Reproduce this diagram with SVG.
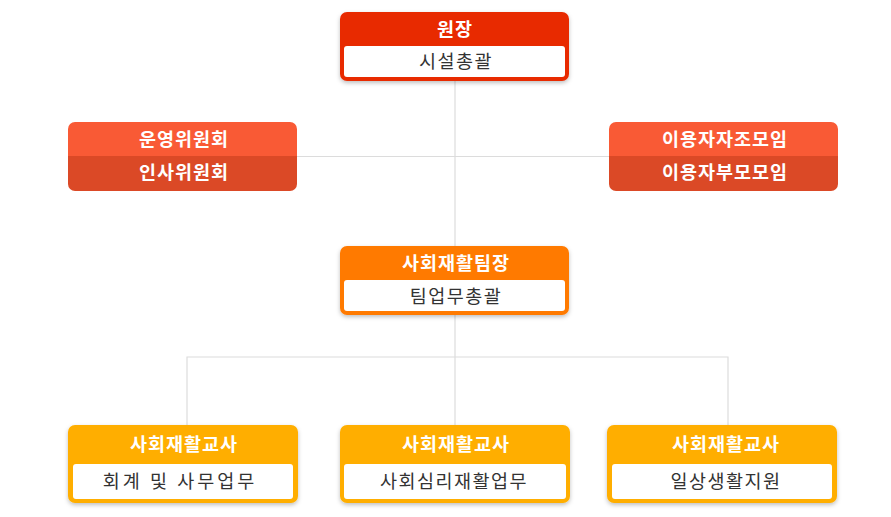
<svg xmlns="http://www.w3.org/2000/svg" width="891" height="517" viewBox="0 0 891 517">
<defs>
<filter id="sh" x="-10%" y="-10%" width="120%" height="130%">
<feDropShadow dx="0" dy="2" stdDeviation="2" flood-color="#000" flood-opacity="0.25"/>
</filter>
<clipPath id="c1"><rect x="68" y="122" width="229" height="69" rx="7"/></clipPath>
<clipPath id="c2"><rect x="609" y="122" width="229" height="69" rx="7"/></clipPath>
</defs>
<style>
.ln{stroke:#dcdcdc;stroke-width:1.2;fill:none}
.hd{font-family:"Noto Sans CJK KR","Noto Sans",sans-serif;font-size:18.5px;font-weight:bold;fill:#fff;text-anchor:middle;letter-spacing:1px}
.bd{font-family:"Noto Sans CJK KR","Noto Sans",sans-serif;font-size:18.5px;fill:#333;text-anchor:middle;letter-spacing:1.5px}
.wh{fill:#fff}
</style>
<rect width="891" height="517" fill="#fff"/>
<g id="connectors">
<line class="ln" x1="455" y1="81" x2="455" y2="246"/>
<line class="ln" x1="297" y1="156.5" x2="609" y2="156.5"/>
<line class="ln" x1="455" y1="315" x2="455" y2="425"/>
<polyline class="ln" points="187,425 187,357 728,357 728,425"/>
</g>
<g id="n-director">
<rect x="340" y="12" width="229" height="69" rx="7" fill="#E82B00" filter="url(#sh)"/>
<rect class="wh" x="344" y="46" width="221" height="31" rx="3"/>
<text class="hd" x="455" y="36">원장</text>
<text class="bd" x="456" y="68">시설총괄</text>
</g>
<g id="n-committee">
<g clip-path="url(#c1)" filter="url(#sh)">
<rect x="68" y="122" width="229" height="35" fill="#F95A36"/>
<rect x="68" y="156" width="229" height="35" fill="#DB4826"/>
</g>
<text class="hd" x="184" y="146">운영위원회</text>
<text class="hd" x="184" y="179">인사위원회</text>
</g>
<g id="n-users">
<g clip-path="url(#c2)" filter="url(#sh)">
<rect x="609" y="122" width="229" height="35" fill="#F95A36"/>
<rect x="609" y="156" width="229" height="35" fill="#DB4826"/>
</g>
<text class="hd" x="725" y="146">이용자자조모임</text>
<text class="hd" x="725" y="179">이용자부모모임</text>
</g>
<g id="n-teamlead">
<rect x="340" y="246" width="229" height="69" rx="7" fill="#FF7A00" filter="url(#sh)"/>
<rect class="wh" x="344" y="280" width="221" height="31" rx="3"/>
<text class="hd" x="456" y="270">사회재활팀장</text>
<text class="bd" x="456" y="303">팀업무총괄</text>
</g>
<g id="n-teacher1">
<rect x="68" y="425" width="230" height="78" rx="7" fill="#FFAE00" filter="url(#sh)"/>
<rect class="wh" x="73" y="464" width="220" height="35" rx="3"/>
<text class="hd" x="184" y="451">사회재활교사</text>
<text class="bd" x="180" y="488" style="letter-spacing:3px">회계 및 사무업무</text>
</g>
<g id="n-teacher2">
<rect x="340" y="425" width="230" height="78" rx="7" fill="#FFAE00" filter="url(#sh)"/>
<rect class="wh" x="344" y="464" width="222" height="35" rx="3"/>
<text class="hd" x="456" y="451">사회재활교사</text>
<text class="bd" x="454" y="488">사회심리재활업무</text>
</g>
<g id="n-teacher3">
<rect x="607" y="425" width="230" height="78" rx="7" fill="#FFAE00" filter="url(#sh)"/>
<rect class="wh" x="612" y="464" width="220" height="35" rx="3"/>
<text class="hd" x="726" y="451">사회재활교사</text>
<text class="bd" x="726" y="488">일상생활지원</text>
</g>
</svg>
